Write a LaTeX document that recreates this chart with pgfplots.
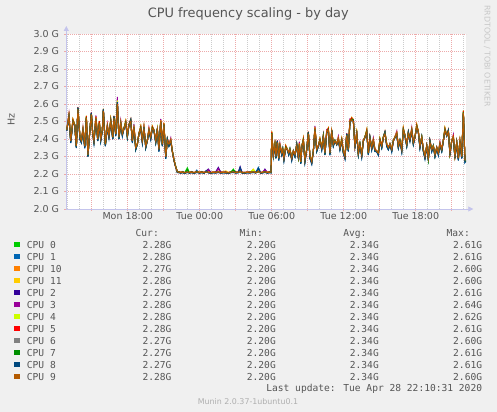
\documentclass[border=0pt]{standalone}
\usepackage{pgfplots}
\pgfplotsset{compat=1.18}
\usepackage{pgfplotstable}
\usetikzlibrary{arrows.meta}
\usepackage{fontspec}
\setmainfont{DejaVu Sans}
\newfontfamily\monofont{DejaVu Sans Mono}
\definecolor{bgc}{HTML}{F0F0F0}
\definecolor{axisc}{HTML}{C4C4EC}
\definecolor{gridred}{HTML}{EDAAAA}
\definecolor{gridgray}{HTML}{CCCCCC}
\definecolor{tickc}{HTML}{555555}
\definecolor{legc}{HTML}{555555}
\definecolor{c0}{HTML}{00CC00}
\definecolor{c1}{HTML}{0066B3}
\definecolor{c10}{HTML}{FF8000}
\definecolor{c11}{HTML}{FFCC00}
\definecolor{c2}{HTML}{330099}
\definecolor{c3}{HTML}{990099}
\definecolor{c4}{HTML}{CCFF00}
\definecolor{c5}{HTML}{FF0000}
\definecolor{c6}{HTML}{808080}
\definecolor{c7}{HTML}{008F00}
\definecolor{c8}{HTML}{00487D}
\definecolor{c9}{HTML}{B35A00}
\newcommand\legfont{\monofont\fontsize{9.6bp}{11bp}\selectfont}
\newcommand\tickfont{\fontsize{9.5bp}{11bp}\selectfont}
% minutes since Mon 00:00, values in MHz
\pgfplotstableread{
m c0 c1 c10 c11 c2 c3 c4 c5 c6 c7 c8 c9
775 2452 2447 2451 2453 2448 2454 2452 2451 2450 2449 2447 2450
786 2534 2527 2532 2540 2526 2545 2536 2535 2529 2528 2525 2530
795 2386 2378 2389 2393 2384 2393 2394 2387 2391 2385 2376 2390
806 2510 2501 2499 2505 2502 2507 2514 2512 2500 2504 2497 2500
815 2478 2482 2479 2481 2483 2479 2483 2478 2481 2482 2478 2480
823 2353 2352 2362 2359 2350 2358 2362 2364 2358 2351 2348 2360
831 2576 2575 2572 2584 2580 2582 2574 2573 2571 2579 2577 2570
841 2406 2398 2409 2413 2404 2413 2414 2407 2411 2405 2396 2410
848 2383 2382 2392 2389 2380 2388 2392 2394 2388 2381 2378 2390
856 2454 2447 2452 2460 2446 2465 2456 2455 2449 2448 2445 2450
865 2356 2348 2359 2363 2354 2363 2364 2357 2361 2355 2346 2360
873 2530 2521 2519 2525 2522 2527 2534 2532 2520 2524 2517 2520
881 2303 2302 2312 2309 2300 2308 2312 2314 2308 2301 2298 2310
890 2442 2437 2441 2443 2438 2444 2442 2441 2440 2439 2437 2440
898 2546 2545 2542 2554 2550 2552 2544 2543 2541 2549 2547 2540
905 2428 2432 2429 2431 2433 2429 2433 2428 2431 2432 2428 2430
911 2386 2378 2389 2393 2384 2393 2394 2387 2391 2385 2376 2390
921 2524 2517 2522 2530 2516 2535 2526 2525 2519 2518 2515 2520
930 2393 2392 2402 2399 2390 2398 2402 2404 2398 2391 2388 2400
938 2500 2491 2489 2495 2492 2497 2504 2502 2490 2494 2487 2490
945 2396 2388 2399 2403 2394 2403 2404 2397 2401 2395 2386 2400
953 2452 2447 2451 2453 2448 2454 2452 2451 2450 2449 2447 2450
958 2566 2565 2562 2574 2570 2572 2564 2563 2561 2569 2567 2560
968 2363 2362 2372 2369 2360 2368 2372 2374 2368 2361 2358 2370
978 2474 2467 2472 2480 2466 2485 2476 2475 2469 2468 2465 2470
986 2416 2408 2419 2423 2414 2423 2424 2417 2421 2415 2406 2420
995 2510 2501 2499 2505 2502 2507 2514 2512 2500 2504 2497 2500
1005 2403 2402 2412 2409 2400 2408 2412 2414 2408 2401 2398 2410
1011 2526 2525 2522 2534 2530 2532 2524 2523 2521 2529 2527 2520
1020 2426 2418 2429 2433 2424 2433 2434 2427 2431 2425 2416 2430
1028 2610 2610 2600 2600 2610 2640 2620 2610 2600 2610 2610 2600
1036 2403 2402 2412 2409 2400 2408 2412 2414 2408 2401 2398 2410
1045 2494 2487 2492 2500 2486 2505 2496 2495 2489 2488 2485 2490
1053 2426 2418 2429 2433 2424 2433 2434 2427 2431 2425 2416 2430
1061 2458 2462 2459 2461 2463 2459 2463 2458 2461 2462 2458 2460
1070 2500 2491 2489 2495 2492 2497 2504 2502 2490 2494 2487 2490
1078 2413 2412 2422 2419 2410 2418 2422 2424 2418 2411 2408 2420
1086 2482 2477 2481 2483 2478 2484 2482 2481 2480 2479 2477 2480
1095 2506 2505 2502 2514 2510 2512 2504 2503 2501 2509 2507 2500
1103 2386 2378 2389 2393 2384 2393 2394 2387 2391 2385 2376 2390
1111 2474 2467 2472 2480 2466 2485 2476 2475 2469 2468 2465 2470
1120 2343 2342 2352 2349 2340 2348 2352 2354 2348 2341 2338 2350
1128 2368 2372 2369 2371 2373 2369 2373 2368 2371 2372 2368 2370
1136 2432 2427 2431 2433 2428 2434 2432 2431 2430 2429 2427 2430
1145 2470 2461 2459 2465 2462 2467 2474 2472 2460 2464 2457 2460
1153 2386 2378 2389 2393 2384 2393 2394 2387 2391 2385 2376 2390
1161 2466 2465 2462 2474 2470 2472 2464 2463 2461 2469 2467 2460
1170 2353 2352 2362 2359 2350 2358 2362 2364 2358 2351 2348 2360
1178 2388 2392 2389 2391 2393 2389 2393 2388 2391 2392 2388 2390
1186 2454 2447 2452 2460 2446 2465 2456 2455 2449 2448 2445 2450
1195 2406 2398 2409 2413 2404 2413 2414 2407 2411 2405 2396 2410
1203 2470 2461 2459 2465 2462 2467 2474 2472 2460 2464 2457 2460
1211 2452 2447 2451 2453 2448 2454 2452 2451 2450 2449 2447 2450
1220 2383 2382 2392 2389 2380 2388 2392 2394 2388 2381 2378 2390
1228 2456 2455 2452 2464 2460 2462 2454 2453 2451 2459 2457 2450
1236 2336 2328 2339 2343 2334 2343 2344 2337 2341 2335 2326 2340
1245 2504 2497 2502 2510 2496 2515 2506 2505 2499 2498 2495 2500
1253 2363 2362 2372 2369 2360 2368 2372 2374 2368 2361 2358 2370
1261 2490 2481 2479 2485 2482 2487 2494 2492 2480 2484 2477 2480
1270 2296 2288 2299 2303 2294 2303 2304 2297 2301 2295 2286 2300
1278 2396 2395 2392 2404 2400 2402 2394 2393 2391 2399 2397 2390
1286 2363 2362 2372 2369 2360 2368 2372 2374 2368 2361 2358 2370
1295 2394 2387 2392 2400 2386 2405 2396 2395 2389 2388 2385 2390
1303 2328 2332 2329 2331 2333 2329 2333 2328 2331 2332 2328 2330
1311 2282 2277 2281 2283 2278 2284 2282 2281 2280 2279 2277 2280
1320 2238 2242 2239 2241 2243 2239 2243 2238 2241 2242 2238 2240
1328 2214 2209 2213 2216 2211 2215 2214 2213 2212 2210 2208 2212
1336 2208 2212 2213 2209 2214 2208 2210 2213 2211 2212 2207 2210
1345 2210 2205 2209 2212 2207 2211 2210 2209 2208 2206 2204 2208
1355 2208 2212 2213 2209 2214 2208 2210 2213 2211 2212 2207 2210
1365 2208 2203 2207 2210 2205 2209 2208 2207 2206 2204 2202 2206
1378 2235 2214 2215 2211 2216 2210 2212 2215 2213 2225 2209 2212
1388 2210 2205 2209 2212 2207 2211 2210 2209 2208 2206 2204 2208
1400 2208 2212 2213 2209 2214 2208 2210 2213 2211 2212 2207 2210
1412 2208 2203 2207 2210 2205 2209 2208 2207 2206 2204 2202 2206
1425 2210 2222 2215 2211 2216 2210 2212 2215 2213 2214 2209 2212
1438 2210 2205 2209 2212 2207 2211 2210 2209 2208 2206 2204 2208
1450 2208 2212 2213 2209 2214 2208 2210 2213 2211 2212 2207 2210
1462 2209 2204 2208 2211 2206 2210 2209 2208 2207 2205 2203 2207
1472 2210 2214 2215 2211 2216 2210 2212 2215 2213 2214 2220 2212
1483 2212 2207 2211 2214 2228 2225 2212 2211 2210 2208 2206 2210
1495 2204 2208 2209 2205 2210 2204 2206 2209 2207 2208 2203 2206
1508 2212 2207 2211 2214 2209 2213 2212 2211 2210 2208 2206 2210
1520 2206 2210 2211 2207 2212 2206 2208 2211 2209 2210 2205 2208
1533 2214 2209 2213 2216 2238 2232 2214 2213 2212 2210 2208 2212
1545 2205 2209 2210 2206 2211 2205 2207 2210 2208 2209 2204 2207
1558 2212 2207 2211 2214 2209 2213 2212 2211 2210 2208 2206 2210
1570 2206 2210 2211 2218 2212 2206 2208 2211 2209 2210 2205 2208
1583 2208 2203 2207 2210 2205 2209 2208 2207 2206 2204 2202 2206
1595 2208 2212 2213 2209 2214 2208 2210 2213 2211 2212 2207 2210
1608 2228 2209 2213 2216 2211 2215 2214 2213 2212 2222 2208 2212
1620 2206 2210 2211 2207 2212 2206 2208 2211 2209 2210 2205 2208
1632 2212 2207 2211 2214 2209 2213 2212 2211 2210 2208 2206 2210
1642 2212 2230 2217 2213 2242 2212 2214 2217 2215 2216 2236 2214
1652 2210 2205 2209 2212 2207 2211 2210 2209 2208 2206 2204 2208
1665 2204 2208 2209 2205 2210 2204 2206 2209 2207 2208 2203 2206
1678 2212 2207 2211 2214 2209 2213 2212 2211 2210 2208 2206 2210
1690 2206 2210 2211 2207 2212 2206 2208 2211 2209 2210 2205 2208
1708 2214 2209 2213 2228 2211 2215 2225 2213 2212 2210 2208 2212
1720 2206 2210 2211 2207 2212 2206 2208 2211 2209 2210 2205 2208
1733 2216 2238 2215 2218 2213 2217 2216 2215 2214 2212 2232 2214
1745 2204 2208 2209 2205 2210 2204 2206 2209 2207 2208 2203 2206
1756 2212 2207 2211 2214 2209 2213 2212 2211 2210 2208 2206 2210
1766 2210 2214 2215 2211 2228 2224 2212 2215 2213 2214 2209 2212
1778 2210 2205 2209 2212 2207 2211 2210 2209 2208 2206 2204 2208
1790 2208 2212 2213 2209 2214 2208 2210 2213 2211 2212 2207 2210
1797 2212 2207 2211 2214 2209 2213 2212 2211 2210 2208 2206 2210
1800 2440 2431 2429 2435 2432 2437 2444 2442 2430 2434 2427 2430
1808 2306 2298 2309 2313 2304 2313 2314 2307 2311 2305 2296 2310
1816 2372 2367 2371 2373 2368 2374 2372 2371 2370 2369 2367 2370
1821 2293 2292 2302 2299 2290 2298 2302 2304 2298 2291 2288 2300
1828 2386 2385 2382 2394 2390 2392 2384 2383 2381 2389 2387 2380
1835 2286 2278 2289 2293 2284 2293 2294 2287 2291 2285 2276 2290
1841 2364 2357 2362 2370 2356 2375 2366 2365 2359 2358 2355 2360
1850 2313 2312 2322 2319 2310 2318 2322 2324 2318 2311 2308 2320
1855 2338 2342 2339 2341 2343 2339 2343 2338 2341 2342 2338 2340
1861 2286 2278 2289 2293 2284 2293 2294 2287 2291 2285 2276 2290
1870 2360 2351 2349 2355 2352 2357 2364 2362 2350 2354 2347 2350
1878 2342 2337 2341 2343 2338 2344 2342 2341 2340 2339 2337 2340
1885 2313 2312 2322 2319 2310 2318 2322 2324 2318 2311 2308 2320
1891 2338 2342 2339 2341 2343 2339 2343 2338 2341 2342 2338 2340
1900 2286 2278 2289 2293 2284 2293 2294 2287 2291 2285 2276 2290
1908 2332 2327 2331 2333 2328 2334 2332 2331 2330 2329 2327 2330
1916 2303 2302 2312 2309 2300 2308 2312 2314 2308 2301 2298 2310
1925 2366 2365 2362 2374 2370 2372 2364 2363 2361 2369 2367 2360
1933 2296 2288 2299 2303 2294 2303 2304 2297 2301 2295 2286 2300
1938 2374 2367 2372 2380 2366 2385 2376 2375 2369 2368 2365 2370
1945 2263 2262 2272 2269 2260 2268 2272 2274 2268 2261 2258 2270
1951 2358 2362 2359 2361 2363 2359 2363 2358 2361 2362 2358 2360
1958 2400 2391 2389 2395 2392 2397 2404 2402 2390 2394 2387 2390
1966 2276 2268 2279 2283 2274 2283 2284 2277 2281 2275 2266 2280
1975 2342 2337 2341 2343 2338 2344 2342 2341 2340 2339 2337 2340
1983 2436 2435 2432 2444 2440 2442 2434 2433 2431 2439 2437 2430
1991 2293 2292 2302 2299 2290 2298 2302 2304 2298 2291 2288 2300
2000 2266 2258 2269 2273 2264 2273 2274 2267 2271 2265 2256 2270
2008 2328 2332 2329 2331 2333 2329 2333 2328 2331 2332 2328 2330
2016 2464 2457 2462 2470 2456 2475 2466 2465 2459 2458 2455 2460
2025 2333 2332 2342 2339 2330 2338 2342 2344 2338 2331 2328 2340
2033 2362 2357 2361 2363 2358 2364 2362 2361 2360 2359 2357 2360
2041 2400 2391 2389 2395 2392 2397 2404 2402 2390 2394 2387 2390
2050 2346 2338 2349 2353 2344 2353 2354 2347 2351 2345 2336 2350
2058 2416 2415 2412 2424 2420 2422 2414 2413 2411 2419 2417 2410
2066 2313 2312 2322 2319 2310 2318 2322 2324 2318 2311 2308 2320
2075 2444 2437 2442 2450 2436 2455 2446 2445 2439 2438 2435 2440
2083 2460 2451 2449 2455 2452 2457 2464 2462 2450 2454 2447 2450
2091 2316 2308 2319 2323 2314 2323 2324 2317 2321 2315 2306 2320
2100 2446 2445 2442 2454 2450 2452 2444 2443 2441 2449 2447 2440
2108 2363 2362 2372 2369 2360 2368 2372 2374 2368 2361 2358 2370
2116 2388 2392 2389 2391 2393 2389 2393 2388 2391 2392 2388 2390
2125 2372 2367 2371 2373 2368 2374 2372 2371 2370 2369 2367 2370
2133 2404 2397 2402 2410 2396 2415 2406 2405 2399 2398 2395 2400
2141 2346 2338 2349 2353 2344 2353 2354 2347 2351 2345 2336 2350
2150 2400 2391 2389 2395 2392 2397 2404 2402 2390 2394 2387 2390
2158 2323 2322 2332 2329 2320 2328 2332 2334 2328 2321 2318 2330
2166 2296 2288 2299 2303 2294 2303 2304 2297 2301 2295 2286 2300
2175 2426 2425 2422 2434 2430 2432 2424 2423 2421 2429 2427 2420
2183 2333 2332 2342 2339 2330 2338 2342 2344 2338 2331 2328 2340
2191 2504 2497 2502 2510 2496 2515 2506 2505 2499 2498 2495 2500
2200 2520 2511 2509 2515 2512 2517 2524 2522 2510 2514 2507 2510
2208 2506 2505 2502 2514 2510 2512 2504 2503 2501 2509 2507 2500
2216 2356 2348 2359 2363 2354 2363 2364 2357 2361 2355 2346 2360
2225 2434 2427 2432 2440 2426 2445 2436 2435 2429 2428 2425 2430
2233 2313 2312 2322 2319 2310 2318 2322 2324 2318 2311 2308 2320
2241 2368 2372 2369 2371 2373 2369 2373 2368 2371 2372 2368 2370
2250 2306 2298 2309 2313 2304 2313 2314 2307 2311 2305 2296 2310
2258 2392 2387 2391 2393 2388 2394 2392 2391 2390 2389 2387 2390
2266 2408 2412 2409 2411 2413 2409 2413 2408 2411 2412 2408 2410
2275 2450 2441 2439 2445 2442 2447 2454 2452 2440 2444 2437 2440
2283 2313 2312 2322 2319 2310 2318 2322 2324 2318 2311 2308 2320
2291 2406 2405 2402 2414 2410 2412 2404 2403 2401 2409 2407 2400
2300 2346 2338 2349 2353 2344 2353 2354 2347 2351 2345 2336 2350
2308 2394 2387 2392 2400 2386 2405 2396 2395 2389 2388 2385 2390
2316 2333 2332 2342 2339 2330 2338 2342 2344 2338 2331 2328 2340
2325 2332 2327 2331 2333 2328 2334 2332 2331 2330 2329 2327 2330
2333 2316 2308 2319 2323 2314 2323 2324 2317 2321 2315 2306 2320
2341 2400 2391 2389 2395 2392 2397 2404 2402 2390 2394 2387 2390
2350 2353 2352 2362 2359 2350 2358 2362 2364 2358 2351 2348 2360
2358 2408 2412 2409 2411 2413 2409 2413 2408 2411 2412 2408 2410
2366 2436 2435 2432 2444 2440 2442 2434 2433 2431 2439 2437 2430
2375 2366 2358 2369 2373 2364 2373 2374 2367 2371 2365 2356 2370
2383 2343 2342 2352 2349 2340 2348 2352 2354 2348 2341 2338 2350
2391 2372 2367 2371 2373 2368 2374 2372 2371 2370 2369 2367 2370
2400 2336 2328 2339 2343 2334 2343 2344 2337 2341 2335 2326 2340
2408 2388 2392 2389 2391 2393 2389 2393 2388 2391 2392 2388 2390
2416 2412 2407 2411 2413 2408 2414 2412 2411 2410 2409 2407 2410
2425 2434 2427 2432 2440 2426 2445 2436 2435 2429 2428 2425 2430
2433 2353 2352 2362 2359 2350 2358 2362 2364 2358 2351 2348 2360
2441 2388 2392 2389 2391 2393 2389 2393 2388 2391 2392 2388 2390
2450 2336 2328 2339 2343 2334 2343 2344 2337 2341 2335 2326 2340
2458 2460 2451 2449 2455 2452 2457 2464 2462 2450 2454 2447 2450
2466 2422 2417 2421 2423 2418 2424 2422 2421 2420 2419 2417 2420
2475 2363 2362 2372 2369 2360 2368 2372 2374 2368 2361 2358 2370
2483 2436 2435 2432 2444 2440 2442 2434 2433 2431 2439 2437 2430
2491 2396 2388 2399 2403 2394 2403 2404 2397 2401 2395 2386 2400
2500 2454 2447 2452 2460 2446 2465 2456 2455 2449 2448 2445 2450
2508 2373 2372 2382 2379 2370 2378 2382 2384 2378 2371 2368 2380
2516 2408 2412 2409 2411 2413 2409 2413 2408 2411 2412 2408 2410
2525 2480 2471 2469 2475 2472 2477 2484 2482 2470 2474 2467 2470
2533 2442 2437 2441 2443 2438 2444 2442 2441 2440 2439 2437 2440
2541 2356 2348 2359 2363 2354 2363 2364 2357 2361 2355 2346 2360
2550 2408 2412 2409 2411 2413 2409 2413 2408 2411 2412 2408 2410
2558 2333 2332 2342 2339 2330 2338 2342 2344 2338 2331 2328 2340
2566 2296 2288 2299 2303 2294 2303 2304 2297 2301 2295 2286 2300
2575 2362 2357 2361 2363 2358 2364 2362 2361 2360 2359 2357 2360
2583 2283 2282 2292 2289 2280 2288 2292 2294 2288 2281 2278 2290
2591 2386 2385 2382 2394 2390 2392 2384 2383 2381 2389 2387 2380
2600 2336 2328 2339 2343 2334 2343 2344 2337 2341 2335 2326 2340
2608 2358 2362 2359 2361 2363 2359 2363 2358 2361 2362 2358 2360
2616 2303 2302 2312 2309 2300 2308 2312 2314 2308 2301 2298 2310
2625 2352 2347 2351 2353 2348 2354 2352 2351 2350 2349 2347 2350
2633 2316 2308 2319 2323 2314 2323 2324 2317 2321 2315 2306 2320
2641 2374 2367 2372 2380 2366 2385 2376 2375 2369 2368 2365 2370
2650 2333 2332 2342 2339 2330 2338 2342 2344 2338 2331 2328 2340
2658 2388 2392 2389 2391 2393 2389 2393 2388 2391 2392 2388 2390
2666 2460 2451 2449 2455 2452 2457 2464 2462 2450 2454 2447 2450
2675 2422 2417 2421 2423 2418 2424 2422 2421 2420 2419 2417 2420
2683 2446 2445 2442 2454 2450 2452 2444 2443 2441 2449 2447 2440
2691 2316 2308 2319 2323 2314 2323 2324 2317 2321 2315 2306 2320
2700 2388 2392 2389 2391 2393 2389 2393 2388 2391 2392 2388 2390
2708 2414 2407 2412 2420 2406 2425 2416 2415 2409 2408 2405 2410
2716 2293 2292 2302 2299 2290 2298 2302 2304 2298 2291 2288 2300
2725 2382 2377 2381 2383 2378 2384 2382 2381 2380 2379 2377 2380
2733 2286 2278 2289 2293 2284 2293 2294 2287 2291 2285 2276 2290
2741 2388 2392 2389 2391 2393 2389 2393 2388 2391 2392 2388 2390
2750 2293 2292 2302 2299 2290 2298 2302 2304 2298 2291 2288 2300
2758 2560 2551 2549 2555 2552 2557 2564 2562 2550 2554 2547 2550
2766 2276 2268 2279 2283 2274 2283 2284 2277 2281 2275 2266 2280
2770 2280 2280 2270 2280 2270 2280 2280 2280 2270 2270 2270 2280
}\cpudata
\begin{document}
\begin{tikzpicture}
\fill[bgc] (0,0) rectangle (497bp,412bp);
\begin{axis}[
  at={(66.3bp,203bp)}, anchor=south west,
  scale only axis, width=400bp, height=175bp,
  xmin=772.8, xmax=2772.8, ymin=2000, ymax=3000,
  axis background/.style={fill=white},
  axis lines*=left,
  axis line style={draw=axisc, line width=0.8bp},
  x axis line style={-{Triangle[length=5bp,width=5bp]}, shorten >=-7bp},
  y axis line style={-{Triangle[length=5bp,width=5bp]}, shorten >=-8bp},
  xtick={900,1080,...,2700},
  xticklabels={,Mon 18:00,,Tue 00:00,,Tue 06:00,,Tue 12:00,,Tue 18:00,},
  minor xtick={780,840,960,1020,1140,1200,1320,1380,1500,1560,1680,1740,1860,1920,2040,2100,2220,2280,2400,2460,2580,2640,2760},
  ytick={2000,2100,...,3000},
  yticklabels={2.0 G,2.1 G,2.2 G,2.3 G,2.4 G,2.5 G,2.6 G,2.7 G,2.8 G,2.9 G,3.0 G},
  grid=both,
  major grid style={draw=gridred, dash pattern=on 1bp off 1bp, line width=0.7bp},
  minor grid style={draw=gridgray, dash pattern=on 1bp off 1bp, line width=0.7bp},
  tick align=outside, major tick length=2bp, minor tick length=0pt,
  tick style={draw=gridred, line width=0.6bp, solid},
  ticklabel style={font=\tickfont, text=tickc},
  xticklabel style={inner sep=0pt, anchor=north, yshift=-1bp},
  yticklabel style={inner sep=0pt, anchor=east, xshift=-5bp},
  ylabel={Hz},
  ylabel style={at={(axis description cs:-0.138,0.509)}, anchor=center, font=\tickfont, text=tickc},
  every axis plot/.append style={line width=1bp, mark=none},
]
\addplot[c0] table[x=m,y=c0]{\cpudata};
\addplot[c1] table[x=m,y=c1]{\cpudata};
\addplot[c10] table[x=m,y=c10]{\cpudata};
\addplot[c11] table[x=m,y=c11]{\cpudata};
\addplot[c2] table[x=m,y=c2]{\cpudata};
\addplot[c3] table[x=m,y=c3]{\cpudata};
\addplot[c4] table[x=m,y=c4]{\cpudata};
\addplot[c5] table[x=m,y=c5]{\cpudata};
\addplot[c6] table[x=m,y=c6]{\cpudata};
\addplot[c7] table[x=m,y=c7]{\cpudata};
\addplot[c8] table[x=m,y=c8]{\cpudata};
\addplot[c9] table[x=m,y=c9]{\cpudata};
\end{axis}
% title and side texts
\node[anchor=base, inner sep=0pt, font=\fontsize{12.9bp}{15bp}\selectfont, text=tickc] at (248.3bp,394.5bp) {CPU frequency scaling - by day};
\node[rotate=-90, inner sep=0pt, font=\fontsize{7.9bp}{9bp}\selectfont, text={rgb,255:red,200;green,200;blue,200}] at (487.3bp,356bp) {RRDTOOL / TOBI OETIKER};
% legend table
\foreach \t/\x in {Cur:/159, Min:/263, Avg:/366.7, Max:/470}{
  \node[anchor=base east, inner sep=0pt, font=\legfont, text=legc] at (\x bp,175.3bp) {\t};
}
\foreach \k/\nm/\cu/\mn/\av/\mx/\cl in {
  0/CPU 0/2.28G/2.20G/2.34G/2.61G/c0,
  1/CPU 1/2.28G/2.20G/2.34G/2.61G/c1,
  2/CPU 10/2.27G/2.20G/2.34G/2.60G/c10,
  3/CPU 11/2.28G/2.20G/2.34G/2.60G/c11,
  4/CPU 2/2.27G/2.20G/2.34G/2.61G/c2,
  5/CPU 3/2.28G/2.20G/2.34G/2.64G/c3,
  6/CPU 4/2.28G/2.20G/2.34G/2.62G/c4,
  7/CPU 5/2.28G/2.20G/2.34G/2.61G/c5,
  8/CPU 6/2.27G/2.20G/2.34G/2.60G/c6,
  9/CPU 7/2.27G/2.20G/2.34G/2.61G/c7,
  10/CPU 8/2.27G/2.20G/2.34G/2.61G/c8,
  11/CPU 9/2.28G/2.20G/2.34G/2.60G/c9}{
  \pgfmathsetmacro\yb{164-12*\k}
  \pgfmathsetmacro\ya{\yb+0.7}
  \pgfmathsetmacro\yc{\yb+6.2}
  \fill[\cl] (14bp,{\ya*1bp}) rectangle (19.8bp,{\yc*1bp});
  \node[anchor=base west, inner sep=0pt, font=\legfont, text=legc] at (26.7bp,{\yb*1bp}) {\nm};
  \node[anchor=base east, inner sep=0pt, font=\legfont, text=legc] at (171.7bp,{\yb*1bp}) {\cu};
  \node[anchor=base east, inner sep=0pt, font=\legfont, text=legc] at (276bp,{\yb*1bp}) {\mn};
  \node[anchor=base east, inner sep=0pt, font=\legfont, text=legc] at (379bp,{\yb*1bp}) {\av};
  \node[anchor=base east, inner sep=0pt, font=\legfont, text=legc] at (482.3bp,{\yb*1bp}) {\mx};
}
\node[anchor=base east, inner sep=0pt, font=\legfont, text=legc] at (482.3bp,20.5bp) {Last update: Tue Apr 28 22:10:31 2020};
\node[anchor=base, inner sep=0pt, font=\fontsize{7.9bp}{9bp}\selectfont, text={rgb,255:red,175;green,175;blue,175}] at (248bp,8bp) {Munin 2.0.37-1ubuntu0.1};
\pgfresetboundingbox
\useasboundingbox (0,0) rectangle (497bp,412bp);
\end{tikzpicture}
\end{document}
